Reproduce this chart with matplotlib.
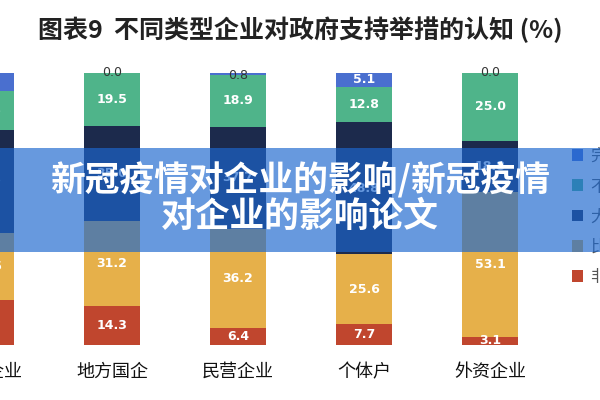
import matplotlib
matplotlib.use('Agg')
import matplotlib.pyplot as plt
from matplotlib.patches import Rectangle
import numpy as np

plt.rcParams['font.family'] = ['Noto Sans CJK SC', 'DejaVu Sans']

# data (%), stacked from the bottom up
companies = ['中央企业', '地方国企', '民营企业', '个体户', '外资企业']
very_well = [16.5, 14.3, 6.4, 7.7, 3.1]      # 非常了解
fairly_well = [24.5, 31.2, 36.2, 25.6, 53.1]  # 比较了解
roughly = [38.0, 35.0, 37.7, 48.8, 18.8]      # 大致了解
not_much = [14.5, 19.5, 18.9, 12.8, 25.0]     # 不太了解
not_at_all = [6.5, 0.0, 0.8, 5.1, 0.0]        # 完全不了解

series = [
    ('非常了解', very_well, '#c0462e'),
    ('比较了解', fairly_well, '#e6b04a'),
    ('大致了解', roughly, '#1c2a4c'),
    ('不太了解', not_much, '#4fb48a'),
    ('完全不了解', not_at_all, '#4a6fcf'),
]

fig = plt.figure(figsize=(6, 4), dpi=100)
ax = fig.add_axes([0, 0.1375, 1, 0.68])

x = np.arange(len(companies))
bottom = np.zeros(len(companies))
handles = []
for name, vals, col in series:
    vals = np.array(vals)
    b = ax.bar(x, vals, 0.44, bottom=bottom, color=col, label=name, zorder=2)
    handles.append(b)
    for xi, v, b0 in zip(x, vals, bottom):
        if v < 3 and name == '完全不了解':
            ax.text(xi, b0, f'{v:.1f}', ha='center', va='center', fontsize=9,
                    color='#333333', family='DejaVu Sans', zorder=3)
        else:
            ax.text(xi, b0 + v / 2, f'{v:.1f}', ha='center', va='center', fontsize=9,
                    color='white', fontweight='bold', family='DejaVu Sans', zorder=3)
    bottom += vals

for s in ax.spines.values():
    s.set_visible(False)
ax.set_yticks([])
ax.set_xticks([])
# category names as texts, so the half-hidden first one still shows
for xi, c in zip(x, companies):
    ax.text(xi, -0.099, c, transform=ax.get_xaxis_transform(), ha='center', va='center',
            fontsize=13, color='#111111', clip_on=False)
# leftmost bar sits half outside the picture
ax.set_xlim(0.111, 4.873)
ax.set_ylim(0, 100)

fig.text(0.5, 0.925, '图表9  不同类型企业对政府支持举措的认知 (%)', ha='center', va='center',
         fontsize=18, fontweight='bold', color='#222222')

leg = fig.legend(handles[::-1], [h.get_label() for h in handles[::-1]],
                 loc='upper left', bbox_to_anchor=(0.928, 0.668), frameon=False,
                 fontsize=12, handlelength=0.7, handleheight=0.7, handletextpad=0.4,
                 labelspacing=0.8, labelcolor='#555555')

# banner overlay
fig.add_artist(Rectangle((0, 0.37), 1, 0.26, transform=fig.transFigure,
                         facecolor='#1c67cf', alpha=0.67, edgecolor='none', zorder=10))
fig.text(0.5, 0.548, '新冠疫情对企业的影响/新冠疫情', ha='center', va='center',
         fontsize=25, fontweight='bold', color='white', zorder=11)
fig.text(0.5, 0.458, '对企业的影响论文', ha='center', va='center',
         fontsize=25, fontweight='bold', color='white', zorder=11)

fig.savefig('out.png', dpi=100)
